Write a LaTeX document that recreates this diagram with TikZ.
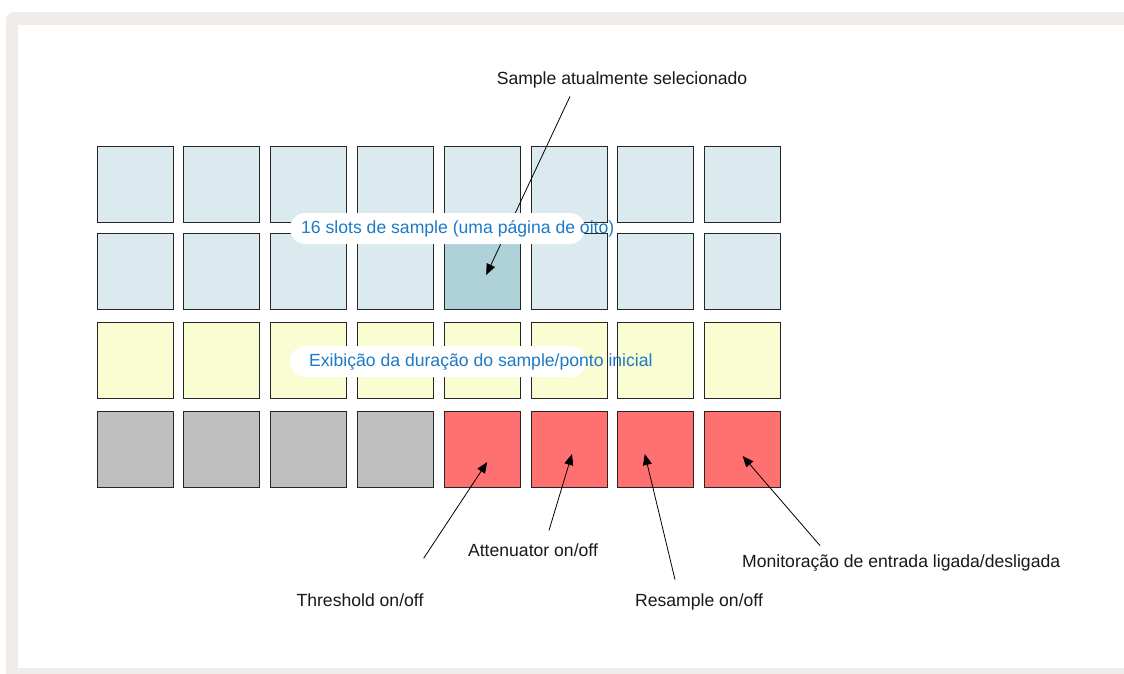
\documentclass[tikz,border=0pt]{standalone}
\usepackage{fontspec}
\setmainfont{Liberation Sans}
\usepackage{tikz}
\usetikzlibrary{arrows.meta}

\definecolor{framegrey}{RGB}{239,236,234}
\definecolor{padblue}{RGB}{219,234,238}
\definecolor{padsel}{RGB}{175,210,217}
\definecolor{padyellow}{RGB}{250,252,210}
\definecolor{padgrey}{RGB}{191,191,191}
\definecolor{padred}{RGB}{255,112,112}
\definecolor{labelblue}{RGB}{28,122,198}

\tikzset{
  pad/.style={draw=black!85, line width=0.9pt, minimum size=76pt, inner sep=0pt, outer sep=0pt},
  lbl/.style={font=\fontsize{17.6}{20}\selectfont, inner sep=0pt, text=black!90},
  bluelbl/.style={lbl, text=labelblue, anchor=west},
  pill/.style={fill=white, rounded corners=15.5pt},
  pointer/.style={-{Triangle[length=11pt,width=9pt]}, line width=0.8pt}
}

\begin{document}
\begin{tikzpicture}[x=1pt, y=-1pt]
  \useasboundingbox (0,0) rectangle (1124,673);
  % frame
  \fill[framegrey, rounded corners=8pt] (6,12) rectangle (1160,700);
  \fill[white] (18,25) rectangle (1160,668);
  % pads, four rows of eight
  \foreach \c in {0,...,7} {
    \pgfmathsetmacro\x{135+86.8*\c}
    \ifnum\c=4 \def\colB{padsel}\else\def\colB{padblue}\fi
    \ifnum\c<4 \def\colD{padgrey}\else\def\colD{padred}\fi
    \node[pad, fill=padblue]   (pad-0-\c) at (\x,184) {};
    \node[pad, fill=\colB]     (pad-1-\c) at (\x,271) {};
    \node[pad, fill=padyellow] (pad-2-\c) at (\x,360) {};
    \node[pad, fill=\colD]     (pad-3-\c) at (\x,449) {};
  }
  % black labels
  \node[lbl] (sel) at (622,80) {Sample atualmente selecionado};
  \node[lbl] (thr) at (360,600) {Threshold on/off};
  \node[lbl] (att) at (533,550) {Attenuator on/off};
  \node[lbl] (res) at (699,602) {Resample on/off};
  \node[lbl, anchor=west] (mon) at (742,563) {Monitoração de entrada ligada/desligada};
  % pointers
  \draw[pointer] ([shift={(-52,8)}]sel.south) -- ([shift={(4,4)}]pad-1-4.center);
  \draw[pointer] ([shift={(0,-35)}]thr.north east) -- ([shift={(5,13)}]pad-3-4.center);
  \draw[pointer] ([shift={(16,-13)}]att.north) -- ([shift={(3,5)}]pad-3-5.center);
  \draw[pointer] ([shift={(-24,-14)}]res.north) -- ([shift={(-11,5)}]pad-3-6.center);
  \draw[pointer] ([shift={(78,-9)}]mon.north west) -- ([shift={(0,7)}]pad-3-7.center);
  % blue labels on white pills
  \fill[pill] (290,213) rectangle (585,244);
  \node[bluelbl] (slots) at (301,228.5) {16 slots de sample (uma página de oito)};
  \fill[pill] (290,346) rectangle (586,377);
  \node[bluelbl] (dur) at (309,361.5) {Exibição da duração do sample/ponto inicial};
\end{tikzpicture}
\end{document}
